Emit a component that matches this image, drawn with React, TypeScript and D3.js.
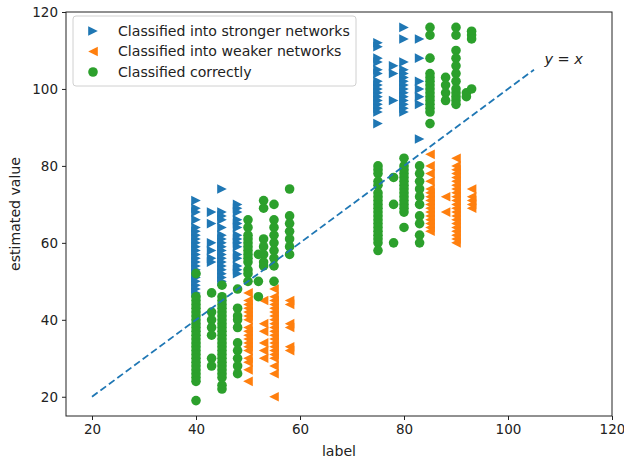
import * as d3 from 'd3';
import { useEffect, useRef } from 'react';

// each column: [label, estimated values...]
const strongerCols: number[][] = [
  [40, 71, 69, 68, 66, 64, 63, 62, 61, 60, 59, 58, 57, 56, 55, 54, 53, 52, 51, 50, 49, 48, 47],
  [43, 68, 65, 60, 58, 56, 55],
  [45, 74, 68, 67, 66, 64, 62, 61, 60, 59, 58, 57, 56, 55, 54, 53, 52, 51, 50],
  [48, 70, 69, 68, 66, 65, 64, 62, 61, 60, 59, 57, 56, 54, 53, 52],
  [75, 112, 111, 108, 107, 105, 104, 102, 101, 100, 99, 98, 97, 96, 95, 94, 91],
  [78, 106, 104, 97],
  [80, 116, 113, 107, 105, 104, 103, 102, 101, 100, 99, 98, 97, 96, 95, 94],
  [83, 113, 108, 102, 100, 98, 96, 87],
];

const weakerCols: number[][] = [
  [50, 47, 45, 44, 43, 42, 41, 40, 38, 37, 36, 35, 34, 33, 32, 30, 29, 27, 24],
  [53, 45, 39, 37, 34, 32, 30],
  [55, 48, 46, 45, 44, 43, 42, 41, 40, 39, 38, 37, 36, 35, 34, 33, 32, 31, 30, 28, 26, 20],
  [58, 45, 44, 39, 38, 33, 32],
  [85, 83, 80, 78, 76, 74, 73, 72, 71, 70, 69, 68, 67, 66, 65, 64, 63],
  [88, 72, 68],
  [90, 82, 80, 79, 78, 77, 76, 75, 74, 73, 72, 71, 70, 69, 68, 67, 66, 65, 64, 63, 62, 61, 60],
  [93, 74, 72, 71, 70, 69],
];

const correctCols: number[][] = [
  [40, 52, 46, 45, 44, 43, 42, 41, 40, 39, 38, 37, 36, 35, 34, 33, 32, 31, 30, 29, 28, 27, 26, 25, 24, 19],
  [43, 47, 42, 40, 38, 36, 30, 28],
  [45, 49, 46, 45, 44, 43, 42, 41, 40, 39, 38, 37, 36, 35, 34, 33, 32, 31, 30, 29, 28, 27, 26, 25, 23, 22],
  [48, 48, 43, 41, 40, 38, 34, 32, 30, 28, 26],
  [50, 66, 64, 62, 61, 60, 59, 58, 57, 56, 55, 53, 52, 50],
  [52, 57, 50, 46],
  [53, 71, 69, 61, 59, 57, 55, 54],
  [55, 70, 66, 64, 62, 60, 58, 56, 54, 50],
  [58, 74, 67, 65, 63, 61, 59, 57],
  [75, 80, 79, 78, 76, 75, 73, 72, 71, 70, 69, 68, 67, 66, 65, 64, 63, 62, 61, 60, 58],
  [78, 77, 70, 60],
  [80, 82, 80, 79, 78, 77, 76, 75, 74, 73, 72, 71, 70, 69, 68, 64],
  [83, 80, 78, 76, 74, 72, 70, 67, 65, 62, 60],
  [85, 116, 114, 108, 104, 103, 102, 101, 100, 99, 98, 97, 96, 95, 94, 91],
  [88, 103, 101, 99, 97],
  [90, 116, 114, 110, 108, 106, 104, 102, 100, 99, 98, 97, 96],
  [92, 99, 98],
  [93, 115, 114, 113, 100],
];

const xTicks = [20, 40, 60, 80, 100, 120];
const yTicks = [20, 40, 60, 80, 100, 120];
const identityLine = [20, 105];

const legendLabels = [
  'Classified into stronger networks',
  'Classified into weaker networks',
  'Classified correctly',
];

const toPoints = (cols: number[][]) =>
  cols.flatMap(([label, ...vals]) => vals.map(v => ({ label, value: v })));

export default function App() {
  const ref = useRef<SVGSVGElement>(null);

  useEffect(() => {
    const width = 624;
    const height = 461;
    const margin = { top: 12, right: 12, bottom: 45, left: 66 };
    const font = 'DejaVu Sans, sans-serif';
    const fs = 13.5;
    const lfs = 14.1;

    const svg = d3.select(ref.current);
    svg.selectAll('*').remove();
    svg.attr('width', width).attr('height', height);

    svg.append('rect').attr('width', width).attr('height', height).attr('fill', '#fff');

    const x = d3.scaleLinear().domain([15, 120]).range([margin.left, width - margin.right]);
    const y = d3.scaleLinear().domain([15, 120]).range([height - margin.bottom, margin.top]);

    const r = 4.8;
    const right = `M${-r},${-r}L${r},0L${-r},${r}Z`;
    const left = `M${r},${-r}L${-r},0L${r},${r}Z`;

    const chart = svg.append('g');

    chart.append('g').selectAll('path')
      .data(toPoints(strongerCols))
      .enter().append('path')
      .attr('d', right)
      .attr('transform', d => `translate(${x(d.label)},${y(d.value)})`)
      .attr('fill', '#1f77b4');

    chart.append('g').selectAll('path')
      .data(toPoints(weakerCols))
      .enter().append('path')
      .attr('d', left)
      .attr('transform', d => `translate(${x(d.label)},${y(d.value)})`)
      .attr('fill', '#ff7f0e');

    chart.append('g').selectAll('circle')
      .data(toPoints(correctCols))
      .enter().append('circle')
      .attr('cx', d => x(d.label))
      .attr('cy', d => y(d.value))
      .attr('r', r)
      .attr('fill', '#2ca02c');

    // y = x reference
    chart.append('path')
      .datum(identityLine)
      .attr('fill', 'none')
      .attr('stroke', '#1f77b4')
      .attr('stroke-width', 1.8)
      .attr('stroke-dasharray', '7,3.5')
      .attr('d', d3.line<number>().x(d => x(d)).y(d => y(d)));

    svg.append('text')
      .attr('x', x(107))
      .attr('y', y(106.5))
      .attr('font-family', font)
      .attr('font-size', 14.5)
      .attr('fill', '#222')
      .html('<tspan font-style="italic">y</tspan> = <tspan font-style="italic">x</tspan>');

    // frame
    svg.append('rect')
      .attr('x', margin.left)
      .attr('y', margin.top)
      .attr('width', width - margin.left - margin.right)
      .attr('height', height - margin.top - margin.bottom)
      .attr('fill', 'none')
      .attr('stroke', '#222')
      .attr('stroke-width', 1);

    const xAxis = svg.append('g')
      .attr('transform', `translate(0,${height - margin.bottom})`)
      .call(d3.axisBottom(x).tickValues(xTicks).tickSize(4).tickPadding(4));
    const yAxis = svg.append('g')
      .attr('transform', `translate(${margin.left},0)`)
      .call(d3.axisLeft(y).tickValues(yTicks).tickSize(4).tickPadding(4));
    [xAxis, yAxis].forEach(a => {
      a.select('.domain').remove();
      a.selectAll('line').attr('stroke', '#222');
      a.selectAll('text')
        .attr('fill', '#222')
        .style('font-family', font)
        .style('font-size', `${fs}px`);
    });

    svg.append('text')
      .attr('x', (margin.left + width - margin.right) / 2)
      .attr('y', height - 5)
      .attr('text-anchor', 'middle')
      .attr('font-family', font)
      .attr('font-size', lfs)
      .attr('fill', '#222')
      .text('label');
    svg.append('text')
      .attr('transform', `translate(20,${(margin.top + height - margin.bottom) / 2}) rotate(-90)`)
      .attr('text-anchor', 'middle')
      .attr('font-family', font)
      .attr('font-size', lfs)
      .attr('fill', '#222')
      .text('estimated value');

    // legend
    const lg = svg.append('g').attr('transform', `translate(73,16)`);
    lg.append('rect')
      .attr('width', 283)
      .attr('height', 70)
      .attr('rx', 3)
      .attr('fill', '#fff')
      .attr('fill-opacity', 0.8)
      .attr('stroke', '#d0d0d0');
    const colors = ['#1f77b4', '#ff7f0e', '#2ca02c'];
    legendLabels.forEach((label, i) => {
      const cy = 15 + i * 20.5;
      if (i === 0) lg.append('path').attr('d', right).attr('transform', `translate(20,${cy})`).attr('fill', colors[i]);
      else if (i === 1) lg.append('path').attr('d', left).attr('transform', `translate(20,${cy})`).attr('fill', colors[i]);
      else lg.append('circle').attr('cx', 20).attr('cy', cy).attr('r', r).attr('fill', colors[i]);
      lg.append('text')
        .attr('x', 45)
        .attr('y', cy)
        .attr('dy', '0.35em')
        .attr('font-family', font)
        .attr('font-size', lfs)
        .attr('fill', '#222')
        .text(label);
    });
  }, []);

  return <svg ref={ref} style={{ display: 'block', position: 'absolute', left: 0, top: 0 }} />;
}
